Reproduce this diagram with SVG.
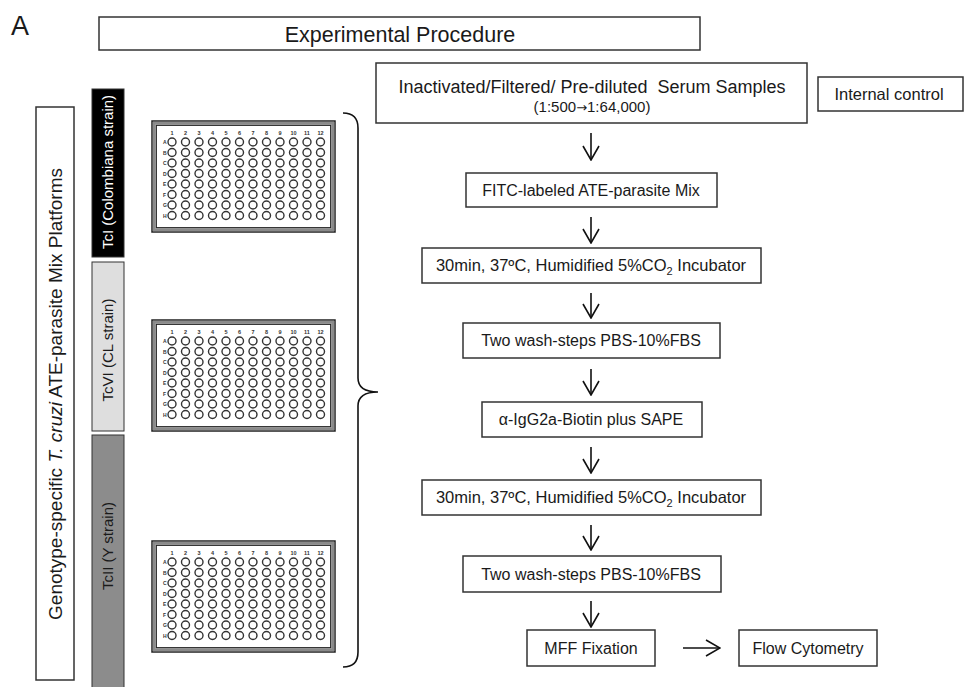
<svg xmlns="http://www.w3.org/2000/svg" xmlns:xlink="http://www.w3.org/1999/xlink" width="969" height="687" viewBox="0 0 969 687">
<style>
text{font-family:"Liberation Sans",Arial,sans-serif;fill:#1a1a1a;white-space:pre}
.box{fill:#fff;stroke:#333;stroke-width:1.5}
.t{font-size:16px;text-anchor:middle}
.conn{stroke:#111;stroke-width:1.6;fill:none}
.w{fill:#fff;stroke:#333;stroke-width:1.4}
.num{font-size:5.5px;text-anchor:middle;font-weight:bold;fill:#333}
.lab{font-size:5px;font-weight:bold;fill:#333}
.rot{font-size:15px;text-anchor:middle}
</style>
<defs>
<marker id="v" viewBox="-1 -1 16 18" refX="14" refY="8" markerWidth="16" markerHeight="18" markerUnits="userSpaceOnUse" orient="auto">
<path d="M0,0 L14,8 L0,16" fill="none" stroke="#111" stroke-width="1.6"/>
</marker>
<g id="wellrow">
<circle class="w" cx="20" cy="0" r="4"/><circle class="w" cx="33.5" cy="0" r="4"/><circle class="w" cx="47" cy="0" r="4"/><circle class="w" cx="60.5" cy="0" r="4"/><circle class="w" cx="74" cy="0" r="4"/><circle class="w" cx="87.5" cy="0" r="4"/><circle class="w" cx="101" cy="0" r="4"/><circle class="w" cx="114.5" cy="0" r="4"/><circle class="w" cx="128" cy="0" r="4"/><circle class="w" cx="141.5" cy="0" r="4"/><circle class="w" cx="155" cy="0" r="4"/><circle class="w" cx="168.5" cy="0" r="4"/>
</g>
<g id="plate">
<rect x="0" y="0" width="183" height="111" fill="#fff" stroke="#222" stroke-width="1.5"/>
<rect x="2.2" y="2.2" width="178.6" height="106.6" fill="none" stroke="#8a8a8a" stroke-width="2.6"/>
<rect x="4.3" y="4.3" width="174.4" height="102.4" fill="none" stroke="#222" stroke-width="1.2"/>
<text class="num" x="20" y="14">1</text><text class="num" x="33.5" y="14">2</text><text class="num" x="47" y="14">3</text><text class="num" x="60.5" y="14">4</text><text class="num" x="74" y="14">5</text><text class="num" x="87.5" y="14">6</text><text class="num" x="101" y="14">7</text><text class="num" x="114.5" y="14">8</text><text class="num" x="128" y="14">9</text><text class="num" x="141.5" y="14">10</text><text class="num" x="155" y="14">11</text><text class="num" x="168.5" y="14">12</text>
<text class="lab" x="11" y="23">A</text><text class="lab" x="11" y="33.5">B</text><text class="lab" x="11" y="44">C</text><text class="lab" x="11" y="54.5">D</text><text class="lab" x="11" y="65">E</text><text class="lab" x="11" y="75.5">F</text><text class="lab" x="11" y="86">G</text><text class="lab" x="11" y="96.5">H</text>
<use xlink:href="#wellrow" y="21"/><use xlink:href="#wellrow" y="31.5"/><use xlink:href="#wellrow" y="42"/><use xlink:href="#wellrow" y="52.5"/><use xlink:href="#wellrow" y="63"/><use xlink:href="#wellrow" y="73.5"/><use xlink:href="#wellrow" y="84"/><use xlink:href="#wellrow" y="94.5"/>
</g>
</defs>
<rect width="969" height="687" fill="#fff"/>
<text x="11" y="35" style="font-size:27px">A</text>

<g id="title"><rect class="box" x="99" y="17" width="601" height="33"/><text x="400" y="42" style="font-size:21.5px;text-anchor:middle">Experimental Procedure</text></g>

<g id="platforms"><rect class="box" x="36" y="107" width="38" height="573"/>
<text transform="translate(62,394) rotate(-90)" style="font-size:19px;text-anchor:middle">Genotype-specific <tspan font-style="italic">T. cruzi</tspan> ATE-parasite Mix Platforms</text></g>

<g id="tc1"><rect x="92" y="89" width="32" height="168" fill="#000" stroke="#333" stroke-width="1"/>
<text class="rot" transform="translate(113,172) rotate(-90)" style="fill:#fff">TcI (Colombiana strain)</text></g>
<g id="tc6"><rect x="92" y="262" width="32" height="169" fill="#dedede" stroke="#333" stroke-width="1"/>
<text class="rot" transform="translate(113,350) rotate(-90)">TcVI (CL strain)</text></g>
<g id="tc2"><rect x="92" y="435" width="32" height="260" fill="#8c8c8c" stroke="#333" stroke-width="1"/>
<text class="rot" transform="translate(113,546) rotate(-90)">TcII (Y strain)</text></g>

<g id="plate1"><use xlink:href="#plate" x="152" y="121"/></g>
<g id="plate2"><use xlink:href="#plate" x="152" y="320"/></g>
<g id="plate3"><use xlink:href="#plate" x="152" y="541"/></g>

<g id="serum"><rect class="box" x="376" y="63" width="431" height="60"/>
<text x="592" y="93" style="font-size:18px;text-anchor:middle">Inactivated/Filtered/ Pre-diluted  Serum Samples</text>
<text x="592" y="112" style="font-size:15px;text-anchor:middle">(1:500<tspan style="font-family:'DejaVu Sans',sans-serif;font-size:13px">→</tspan>1:64,000)</text></g>
<g id="control"><rect class="box" x="818" y="77" width="145" height="34"/><text x="889" y="100" style="font-size:16.5px;text-anchor:middle">Internal control</text></g>
<g id="fitc"><rect class="box" x="466" y="173" width="251" height="34"/><text class="t" x="591" y="196">FITC-labeled ATE-parasite Mix</text></g>
<g id="incub1"><rect class="box" x="422" y="248" width="339" height="35"/><text class="t" x="591" y="271" style="font-size:16.5px">30min, 37ºC, Humidified 5%CO<tspan font-size="11" dy="4">2</tspan><tspan dy="-4"> Incubator</tspan></text></g>
<g id="wash1"><rect class="box" x="463" y="323" width="257" height="35"/><text class="t" x="591" y="346">Two wash-steps PBS-10%FBS</text></g>
<g id="antibody"><rect class="box" x="482" y="402" width="220" height="35"/><text class="t" x="591" y="425">α-IgG2a-Biotin plus SAPE</text></g>
<g id="incub2"><rect class="box" x="422" y="480" width="339" height="35"/><text class="t" x="591" y="503" style="font-size:16.5px">30min, 37ºC, Humidified 5%CO<tspan font-size="11" dy="4">2</tspan><tspan dy="-4"> Incubator</tspan></text></g>
<g id="wash2"><rect class="box" x="463" y="556" width="258" height="36"/><text class="t" x="591" y="580">Two wash-steps PBS-10%FBS</text></g>
<g id="mff"><rect class="box" x="527" y="630" width="128" height="36"/><text class="t" x="591" y="654">MFF Fixation</text></g>
<g id="flow"><rect class="box" x="739" y="630" width="138" height="36"/><text class="t" x="808" y="654">Flow Cytometry</text></g>

<g id="connectors">
<path class="conn" d="M343,113 Q358,113 358,128 L358,378 Q358,392 378,392 Q358,392 358,406 L358,652 Q358,667 343,667"/>
<line class="conn" x1="591" y1="133" x2="591" y2="160" marker-end="url(#v)"/>
<line class="conn" x1="591" y1="217" x2="591" y2="243" marker-end="url(#v)"/>
<line class="conn" x1="591" y1="293" x2="591" y2="318" marker-end="url(#v)"/>
<line class="conn" x1="591" y1="369" x2="591" y2="395" marker-end="url(#v)"/>
<line class="conn" x1="591" y1="447" x2="591" y2="473" marker-end="url(#v)"/>
<line class="conn" x1="591" y1="525" x2="591" y2="550" marker-end="url(#v)"/>
<line class="conn" x1="591" y1="601" x2="591" y2="627" marker-end="url(#v)"/>
<line class="conn" x1="683" y1="648" x2="720" y2="648" marker-end="url(#v)"/>
</g>
</svg>
